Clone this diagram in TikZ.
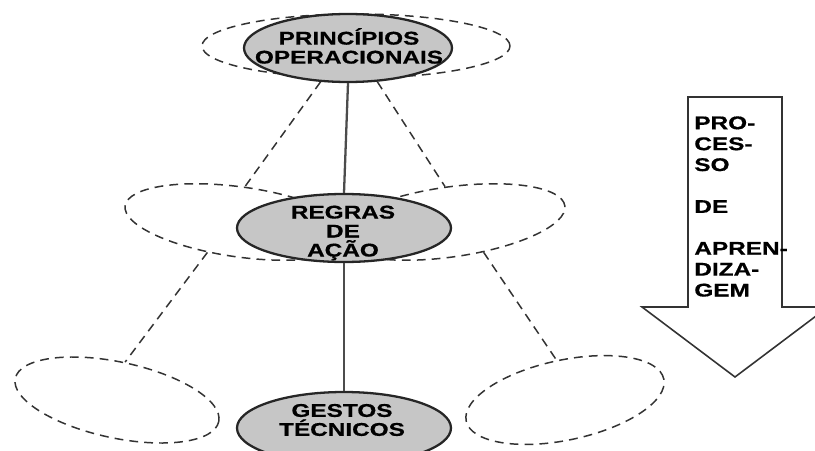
\documentclass[tikz,border=0pt]{standalone}
\usepackage{fontspec}
\usepackage{tikz}
\usetikzlibrary{shapes.geometric}
\newfontfamily\diagfont{Liberation Sans}[FakeStretch=1.32, BoldFeatures={FakeBold=0.6}]
\definecolor{pillgray}{HTML}{C6C6C6}
\definecolor{inkgray}{HTML}{333333}

\begin{document}
\begin{tikzpicture}[
  x=0.2mm, y=-0.2mm,
  pill/.style={ellipse, draw=black!85, line width=1.3pt, fill=pillgray, inner sep=0pt},
  halo/.style={ellipse, draw=inkgray, line width=0.85pt, dash pattern=on 5pt off 3.5pt, inner sep=0pt},
  lbl/.style={align=center, inner sep=0pt, font=\diagfont\bfseries\fontsize{10.5}{10.8}\selectfont},
  arrowlbl/.style={align=left, inner sep=0pt, font=\diagfont\bfseries\fontsize{10.5}{11.9}\selectfont},
  link/.style={draw=black!70, line width=1.3pt},
  dashlink/.style={draw=inkgray, line width=0.85pt, dash pattern=on 5pt off 3.5pt},
  arrowline/.style={draw=black!80, line width=0.9pt}
]
\useasboundingbox (0,0) rectangle (815,451);
\clip (0,0) rectangle (815,451);
\node[halo, minimum width=61.6mm, minimum height=12.8mm] (prinhalo) at (356,46) {};
\node[halo, minimum width=46.4mm, minimum height=14mm, rotate=-8] (regrashaloL) at (240,222) {};
\node[halo, minimum width=46.4mm, minimum height=14mm, rotate=8] (regrashaloR) at (450,222) {};
\node[halo, minimum width=41.6mm, minimum height=15.2mm, rotate=-12] (gestoshaloL) at (117,400) {};
\node[halo, minimum width=40.4mm, minimum height=16mm, rotate=12] (gestoshaloR) at (565,400) {};
\node[pill, minimum width=41.6mm, minimum height=13.6mm] (prin) at (348,48) {};
\node[pill, minimum width=42.8mm, minimum height=13.6mm] (regras) at (344,228) {};
\node[pill, minimum width=42.8mm, minimum height=14.4mm] (gestos) at (344,428) {};
\node[lbl] (prinlbl) at (349,46) {PRINCÍPIOS\\OPERACIONAIS};
\node[lbl] (regraslbl) at (343,233) {REGRAS\\DE\\AÇÃO};
\node[lbl] (gestoslbl) at (342,420) {GESTOS\\TÉCNICOS};
\draw[link] (prin.south) -- (regras.north);
\draw[link] (regras.south) -- (gestos.north);
\draw[dashlink] (prin.231) -- (regrashaloL.north);
\draw[dashlink] (prin.311) -- (regrashaloR.north);
\draw[dashlink] (regrashaloL.231) -- (gestoshaloL.north);
\draw[dashlink] (regrashaloR.310) -- (gestoshaloR.north);
\draw[arrowline] (688,97) -- (782,97) -- (782,307) -- (828,307) -- (735,377) -- (642,307) -- (688,307) -- cycle;
\node[arrowlbl, anchor=north west] (proclbl) at (694,116) {PRO-\\CES-\\SO\\[11.9pt]DE\\[11.9pt]APREN-\\DIZA-\\GEM};
\end{tikzpicture}
\end{document}
